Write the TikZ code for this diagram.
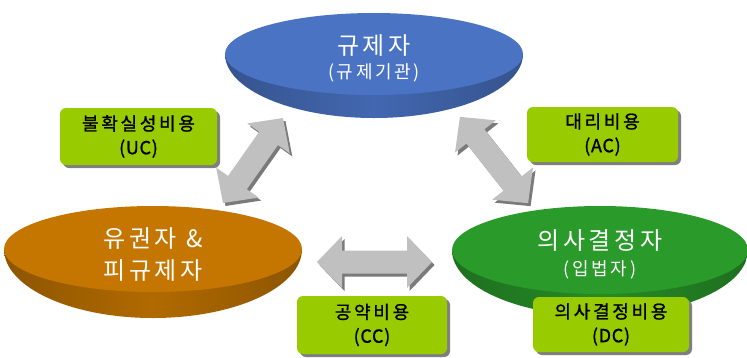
\documentclass[tikz,border=0pt]{standalone}
\usepackage{fontspec}
\setmainfont{Noto Sans CJK KR}
\newfontfamily\krbig[LetterSpace=15]{Noto Sans CJK KR}
\newfontfamily\krbox[LetterSpace=15,FakeBold=1.2]{Noto Sans CJK KR}
\newfontfamily\latbox[LetterSpace=4,FakeBold=1.2]{Noto Sans CJK KR}
\usetikzlibrary{shadows}
\definecolor{bluetop}{HTML}{4A73C4}
\definecolor{orangetop}{HTML}{C47600}
\definecolor{greentop}{HTML}{2A9A2A}
\definecolor{lime}{HTML}{99CC00}
\definecolor{shadowgray}{HTML}{7F7F7F}
\definecolor{arrowgray}{HTML}{C0C0C0}
\definecolor{arrowdark}{HTML}{7A7A7A}
\tikzset{
  pics/dblarrow/.style={code={
    \fill[pic actions] ({-#1/2},0) -- ({-#1/2+25},26) -- ({-#1/2+25},11.5) -- ({#1/2-25},11.5)
      -- ({#1/2-25},26) -- ({#1/2},0) -- ({#1/2-25},-26) -- ({#1/2-25},-11.5)
      -- ({-#1/2+25},-11.5) -- ({-#1/2+25},-26) -- cycle;}},
  costbox/.style={rounded corners=6pt, fill=lime, align=center, inner sep=0pt,
    font=\krbox\fontsize{18}{24}\selectfont, text=black,
    drop shadow={shadow xshift=3pt, shadow yshift=-3pt, fill=shadowgray, opacity=1}},
  bigtxt/.style={text=white, align=center, inner sep=0pt, font=\krbig\fontsize{24}{32}\selectfont},
  smalltxt/.style={text=white, align=center, inner sep=0pt, font=\krbig\fontsize{18}{20}\selectfont},
  bowl/.style={left color=#1!72!black, right color=#1!72!black, middle color=#1!90!black}
}
\begin{document}
\begin{tikzpicture}[x=1pt,y=-1pt]
\useasboundingbox (0,0) rectangle (747,357);
% blue disc
\begin{scope}
  \clip (224,54) rectangle (524,120);
  \shade[bowl=bluetop] (374,54) ellipse [x radius=149, y radius=64];
\end{scope}
\fill[bluetop] (374,54) ellipse [x radius=149, y radius=41];
% orange disc
\begin{scope}
  \clip (3,249) rectangle (303,320);
  \shade[bowl=orangetop] (153,249) ellipse [x radius=149, y radius=69];
\end{scope}
\fill[orangetop] (153,249) ellipse [x radius=149, y radius=43];
% green disc
\begin{scope}
  \clip (452,250) rectangle (752,320);
  \shade[bowl=greentop] (600,250) ellipse [x radius=148, y radius=66];
\end{scope}
\fill[greentop] (600,250) ellipse [x radius=148, y radius=44];
% disc texts
\node[bigtxt] (reg) at (374,46) {규제자};
\node[smalltxt] (regsub) at (374,73) {(규제기관)};
\node[bigtxt] (voter) at (153,255) {유권자 \&\\피규제자};
\node[bigtxt] (dec) at (600,241) {의사결정자};
\node[smalltxt] (decsub) at (600,270) {(입법자)};
% arrows
\pic[rotate=54.8, fill=arrowdark] at (255.5,163.5) {dblarrow=104};
\pic[rotate=54.8, fill=arrowgray] at (253,160.5) {dblarrow=104};
\pic[rotate=-51.7, fill=arrowdark] at (496.5,163) {dblarrow=110};
\pic[rotate=-51.7, fill=arrowgray] at (494,160) {dblarrow=110};
\pic[fill=arrowdark] at (377,265) {dblarrow=115};
\pic[fill=arrowgray] at (374.5,262) {dblarrow=115};
% cost boxes
\node[costbox, minimum width=157pt, minimum height=57pt] (uc) at (138.5,136.5) {불확실성비용\\{\latbox (UC)}};
\node[costbox, minimum width=151pt, minimum height=55pt] (ac) at (602.5,134.5) {대리비용\\{\latbox (AC)}};
\node[costbox, minimum width=150pt, minimum height=58pt] (cc) at (372,325) {공약비용\\{\latbox (CC)}};
\node[costbox, minimum width=156pt, minimum height=55pt] (dc) at (611,324.5) {의사결정비용\\{\latbox (DC)}};
\end{tikzpicture}
\end{document}
